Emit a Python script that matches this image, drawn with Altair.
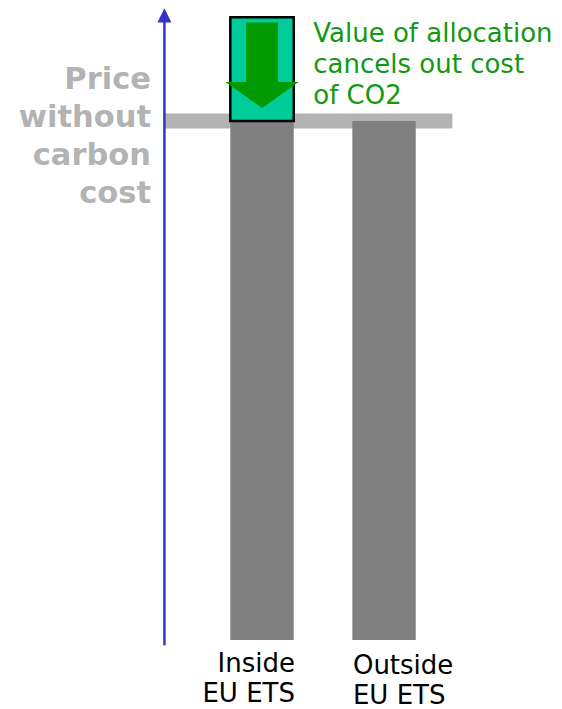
import altair as alt
import pandas as pd

# ---- data (x in "category position" units, y in price units) ----
categories = ["Inside EU ETS", "Outside EU ETS"]
cat_pos = [1, 2]
price_without_carbon = [100, 100]
allocation_value = 20  # value of allocation == cost of CO2
bar_half = 0.26

label_lines = [["Inside", "EU ETS"], ["Outside", "EU ETS"]]
label_x = [1.27, 1.745]
label_y = [-6.2, -6.5]
label_align = ["right", "left"]

price_label = ["Price", "without", "carbon", "cost"]
note_label = ["Value of allocation", "cancels out cost", "of CO2"]

axis_x = 0.2
band_end = 2.56

X = alt.Scale(domain=[-1.082, 3.393], nice=False, zero=False)
Y = alt.Scale(domain=[-13.29, 121.77], nice=False, zero=False)

def xq(f="x"):
    return alt.X(f"{f}:Q", scale=X, axis=None)

def yq(f="y"):
    return alt.Y(f"{f}:Q", scale=Y, axis=None)

bars_df = pd.DataFrame({
    "cat": categories,
    "x": [c - bar_half for c in cat_pos],
    "x2": [c + bar_half for c in cat_pos],
    "y": [0, 0],
    "y2": price_without_carbon,
})

band_df = pd.DataFrame({"x": [axis_x], "x2": [band_end], "y": [price_without_carbon[0]]})
band = alt.Chart(band_df).mark_rule(color="#b3b3b3", strokeWidth=15, strokeCap="butt").encode(
    x=xq(), x2="x2:Q", y=yq())

bars = alt.Chart(bars_df).mark_rect(color="#808080").encode(
    x=xq(), x2="x2:Q", y=yq(), y2="y2:Q")

box_df = pd.DataFrame({"x": [cat_pos[0] - bar_half], "x2": [cat_pos[0] + bar_half],
                       "y": [price_without_carbon[0]],
                       "y2": [price_without_carbon[0] + allocation_value]})
box = alt.Chart(box_df).mark_rect(color="#00cc99", stroke="black", strokeWidth=2.5).encode(
    x=xq(), x2="x2:Q", y=yq(), y2="y2:Q")

shaft_df = pd.DataFrame({"x": [0.87], "x2": [1.13], "y": [107.5], "y2": [119.0]})
shaft = alt.Chart(shaft_df).mark_rect(color="#009900").encode(
    x=xq(), x2="x2:Q", y=yq(), y2="y2:Q")

head_df = pd.DataFrame({"x": [0.70, 1.0, 1.30], "y": [107.5, 102.5, 107.5], "y2": [107.5, 107.5, 107.5]})
head = alt.Chart(head_df).mark_area(color="#009900", interpolate="linear").encode(
    x=xq(), y=yq(), y2="y2:Q")

axis_df = pd.DataFrame({"x": [axis_x], "y": [-1.0], "y2": [119.5]})
axis_line = alt.Chart(axis_df).mark_rule(color="#3333cc", strokeWidth=2.5).encode(
    x=xq(), y=yq(), y2="y2:Q")

ahead_df = pd.DataFrame({"x": [axis_x - 0.057, axis_x, axis_x + 0.057],
                         "y": [119.0, 121.7, 119.0], "y2": [119.0, 119.0, 119.0]})
ahead = alt.Chart(ahead_df).mark_area(color="#3333cc", interpolate="linear").encode(
    x=xq(), y=yq(), y2="y2:Q")

price_df = pd.DataFrame({"x": [0.09], "y": [106.2], "t": [price_label]})
price_txt = alt.Chart(price_df).mark_text(
    align="right", baseline="alphabetic", font="DejaVu Sans", fontWeight="bold",
    fontSize=30.5, lineHeight=38, color="#b3b3b3").encode(x=xq(), y=yq(), text="t")

note_df = pd.DataFrame({"x": [1.42], "y": [115.2], "t": [note_label]})
note_txt = alt.Chart(note_df).mark_text(
    align="left", baseline="alphabetic", font="DejaVu Sans",
    fontSize=26, lineHeight=31, color="#119911").encode(x=xq(), y=yq(), text="t")

cat_layers = []
for lines, lx, ly, al in zip(label_lines, label_x, label_y, label_align):
    df = pd.DataFrame({"x": [lx], "y": [ly], "t": [lines]})
    cat_layers.append(alt.Chart(df).mark_text(
        align=al, baseline="alphabetic", font="DejaVu Sans", fontSize=26,
        lineHeight=30, color="black").encode(x=xq(), y=yq(), text="t"))

chart = alt.layer(band, bars, box, shaft, head, axis_line, ahead, price_txt, note_txt,
                  *cat_layers).properties(
    width=546, height=701, autosize=alt.AutoSizeParams(type="none"),
    padding=0, background="white"
).configure_view(stroke=None)

chart.save("out.html", embed_options={"renderer": "svg", "actions": False})
